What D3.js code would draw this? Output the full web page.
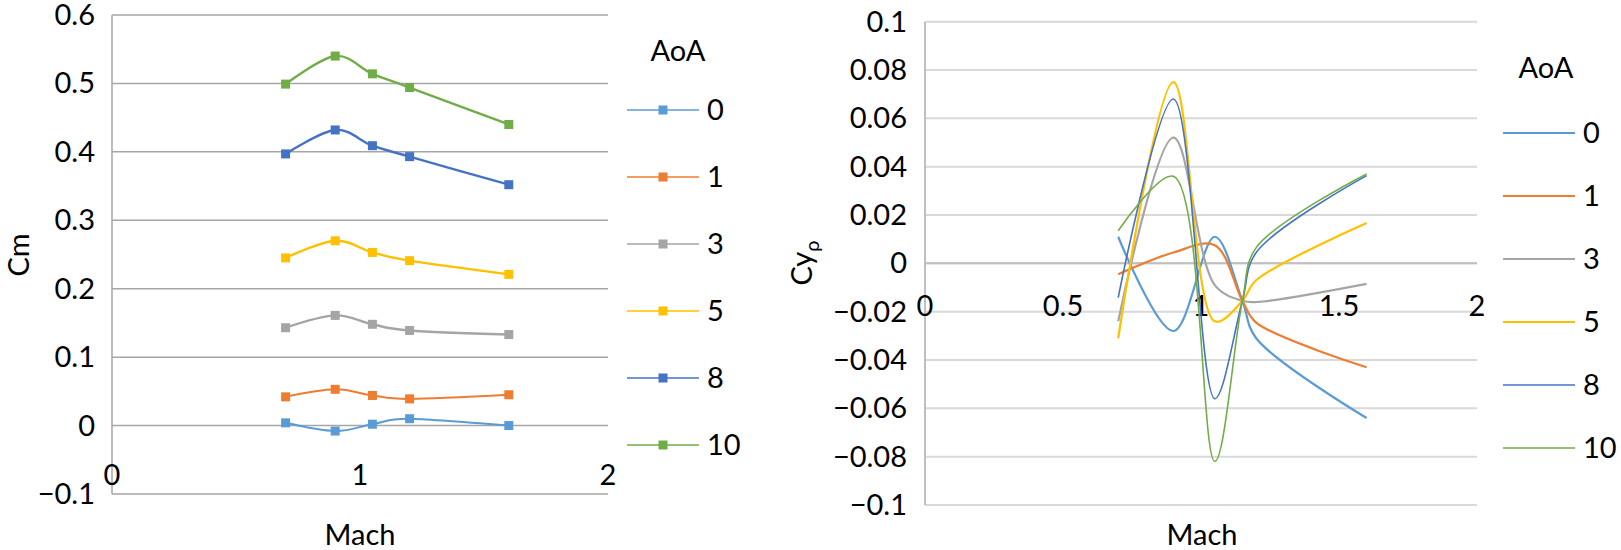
<!DOCTYPE html>
<html><head><meta charset="utf-8">
<script src="https://cdn.jsdelivr.net/npm/d3@7"></script>
<style>
html,body{margin:0;padding:0;background:#fff;}
svg{display:block;font-family:Lato,"Open Sans",sans-serif;}
</style></head>
<body>
<svg id="chart" width="1621" height="550"></svg>
<script>
// ---------- data ----------
const aoaLabels = ["0","1","3","5","8","10"];
const seriesColors = ["#5B9BD5","#ED7D31","#A5A5A5","#FFC000","#4472C4","#70AD47"];

// Left chart: Cm vs Mach
const machCm = [0.7, 0.9, 1.05, 1.2, 1.6];
const cmAoA0  = [0.004, -0.008, 0.002, 0.010, 0.000];
const cmAoA1  = [0.042, 0.053, 0.044, 0.039, 0.045];
const cmAoA3  = [0.143, 0.161, 0.148, 0.139, 0.133];
const cmAoA5  = [0.245, 0.270, 0.253, 0.241, 0.221];
const cmAoA8  = [0.397, 0.432, 0.409, 0.393, 0.352];
const cmAoA10 = [0.499, 0.540, 0.514, 0.494, 0.440];
const cmTicksY = [-0.1, 0, 0.1, 0.2, 0.3, 0.4, 0.5, 0.6];
const cmTicksX = [0, 1, 2];

// Right chart: Cy_rho vs Mach
const machCy = [0.7, 0.9, 1.05, 1.15, 1.2, 1.6];
const cyAoA0  = [0.011, -0.028, 0.011, -0.0155, -0.031, -0.064];
const cyAoA1  = [-0.0045, 0.0045, 0.0075, -0.0155, -0.0245, -0.043];
const cyAoA3  = [-0.024, 0.052, -0.009, -0.0155, -0.016, -0.0085];
const cyAoA5  = [-0.031, 0.075, -0.024, -0.0155, -0.007, 0.0167];
const cyAoA8  = [-0.0142, 0.068, -0.056, -0.0155, 0.0045, 0.0363];
const cyAoA10 = [0.0135, 0.036, -0.082, -0.0155, 0.0065, 0.037];
const cyTicksY = [-0.1, -0.08, -0.06, -0.04, -0.02, 0, 0.02, 0.04, 0.06, 0.08, 0.1];
const cyTicksX = [0, 0.5, 1, 1.5, 2];

const cmSeries = [cmAoA0, cmAoA1, cmAoA3, cmAoA5, cmAoA8, cmAoA10];
const cySeries = [cyAoA0, cyAoA1, cyAoA3, cyAoA5, cyAoA8, cyAoA10];

const svg = d3.select("#chart");
const FS = 29;

// ---------- left chart ----------
(function(){
  const x = d3.scaleLinear().domain([0,2]).range([112,608]);
  const y = d3.scaleLinear().domain([-0.1,0.6]).range([494,15]);
  const g = svg.append("g");
  g.selectAll("line.grid").data(cmTicksY).join("line")
    .attr("x1", x(0)).attr("x2", x(2))
    .attr("y1", d=>y(d)).attr("y2", d=>y(d))
    .attr("stroke", "#a6a6a6").attr("stroke-width", 1.5);
  g.append("line").attr("x1", x(0)).attr("x2", x(0)).attr("y1", y(0.6)).attr("y2", y(-0.1))
    .attr("stroke","#a6a6a6").attr("stroke-width",1.5);
  const fy = d3.format(".1f");
  g.selectAll("text.yt").data(cmTicksY).join("text")
    .attr("x", 95).attr("y", d=>y(d)+10).attr("text-anchor","end")
    .attr("font-size", FS).attr("fill","#000")
    .text(d=> d===0 ? "0" : fy(d).replace("-","\u2212"));
  g.selectAll("text.xt").data(cmTicksX).join("text")
    .attr("x", d=>x(d)).attr("y", y(0)+59).attr("text-anchor","middle")
    .attr("font-size", FS).attr("fill","#000").text(d=>d);
  g.append("text").attr("x",360).attr("y",545).attr("text-anchor","middle")
    .attr("font-size",29).text("Mach");
  g.append("text").attr("transform","translate(29,255) rotate(-90)").attr("text-anchor","middle")
    .attr("font-size",29).text("Cm");
  const line = d3.line().x((d,i)=>x(machCm[i])).y(d=>y(d)).curve(d3.curveCardinal.tension(0));
  cmSeries.forEach((s,k)=>{
    g.append("path").attr("d", line(s)).attr("fill","none")
      .attr("stroke", seriesColors[k]).attr("stroke-width", k===0||k===1?2:2.4);
    g.selectAll(null).data(s).join("rect")
      .attr("x",(d,i)=>x(machCm[i])-4.5).attr("y",d=>y(d)-4.5)
      .attr("width",9).attr("height",9).attr("fill",seriesColors[k]);
  });
  const lg = svg.append("g");
  lg.append("text").attr("x",678).attr("y",61).attr("text-anchor","middle").attr("font-size",FS).text("AoA");
  const ly = d3.scaleLinear().domain([0,5]).range([110,445]);
  aoaLabels.forEach((lab,k)=>{
    const yy = ly(k);
    lg.append("line").attr("x1",627).attr("x2",699).attr("y1",yy).attr("y2",yy)
      .attr("stroke",seriesColors[k]).attr("stroke-width",1.5);
    lg.append("rect").attr("x",663-4.5).attr("y",yy-4.5).attr("width",9).attr("height",9).attr("fill",seriesColors[k]);
    lg.append("text").attr("x",707).attr("y",yy+10).attr("font-size",FS).text(lab);
  });
})();

// ---------- right chart ----------
(function(){
  const x = d3.scaleLinear().domain([0,2]).range([925,1477]);
  const y = d3.scaleLinear().domain([-0.1,0.1]).range([505,21.7]);
  const g = svg.append("g");
  g.selectAll("line.grid").data(cyTicksY).join("line")
    .attr("x1", x(0)).attr("x2", x(2))
    .attr("y1", d=>y(d)).attr("y2", d=>y(d))
    .attr("stroke", "#d9d9d9").attr("stroke-width", 2);
  g.append("line").attr("x1",x(0)).attr("x2",x(2)).attr("y1",y(0)).attr("y2",y(0))
    .attr("stroke","#bfbfbf").attr("stroke-width",2);
  g.append("line").attr("x1",x(0)).attr("x2",x(0)).attr("y1",y(0.1)).attr("y2",y(-0.1))
    .attr("stroke","#bfbfbf").attr("stroke-width",2);
  const fy = d3.format(".2f");
  g.selectAll("text.yt").data(cyTicksY).join("text")
    .attr("x", 907).attr("y", d=>y(d)+10).attr("text-anchor","end")
    .attr("font-size", FS).attr("fill","#000")
    .text(d=> Math.abs(d)<1e-9 ? "0" : (Math.abs(d)===0.1 ? d3.format(".1f")(d) : fy(d)).replace("-","\u2212"));
  g.selectAll("text.xt").data(cyTicksX).join("text")
    .attr("x", d=>x(d)).attr("y", y(0)+53).attr("text-anchor","middle")
    .attr("font-size", FS).attr("fill","#000").text(d=>d);
  g.append("text").attr("x",1202).attr("y",545).attr("text-anchor","middle")
    .attr("font-size",29).text("Mach");
  const yl = g.append("text").attr("transform","translate(812,263) rotate(-90)").attr("text-anchor","middle")
    .attr("font-size",29);
  yl.append("tspan").text("Cy");
  yl.append("tspan").attr("font-size",20).attr("dy",7).text("\u03C1");
  const line = d3.line().x((d,i)=>x(machCy[i])).y(d=>y(d)).curve(d3.curveCatmullRom.alpha(0.5));
  cySeries.forEach((s,k)=>{
    g.append("path").attr("d", line(s)).attr("fill","none")
      .attr("stroke", seriesColors[k]).attr("stroke-width", (k===4||k===5)?1.6:2.2);
  });
  const lg = svg.append("g");
  lg.append("text").attr("x",1546).attr("y",78).attr("text-anchor","middle").attr("font-size",FS).text("AoA");
  const ly = d3.scaleLinear().domain([0,5]).range([133,448]);
  aoaLabels.forEach((lab,k)=>{
    const yy = ly(k);
    lg.append("line").attr("x1",1503).attr("x2",1575).attr("y1",yy).attr("y2",yy)
      .attr("stroke",seriesColors[k]).attr("stroke-width",(k===4||k===5)?1.6:2.2);
    lg.append("text").attr("x",1583).attr("y",yy+10).attr("font-size",FS).text(lab);
  });
})();
</script>
</body></html>
